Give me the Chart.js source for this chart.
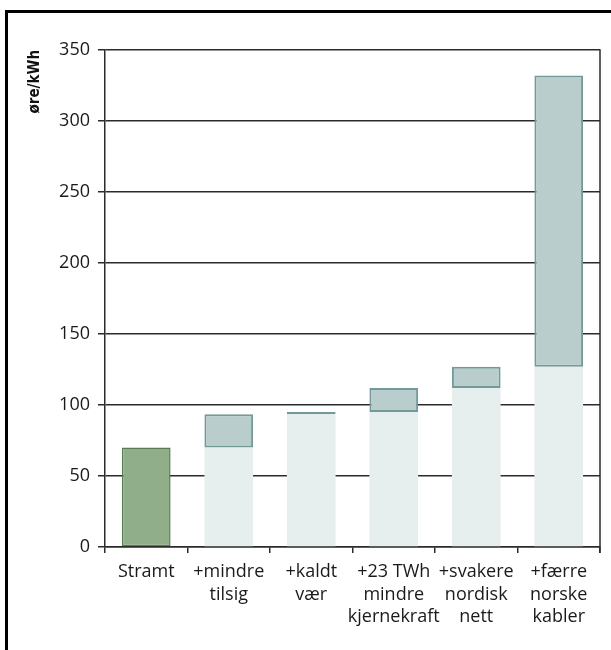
<!DOCTYPE html>
<html>
<head>
<meta charset="utf-8">
<script src="https://cdn.jsdelivr.net/npm/chart.js@4"></script>
<style>
  html, body { margin: 0; padding: 0; background: #fff; }
  #frame { position: absolute; left: 5px; top: 10px; width: 700px; height: 700px; border: 3px solid #000; box-sizing: border-box; }
  #wrap { position: absolute; left: 0; top: 0; width: 611px; height: 650px; }
</style>
</head>
<body>
<div id="frame"></div>
<div id="wrap"><canvas id="waterfall" width="611" height="650"></canvas></div>
<script>
// categories and values (øre/kWh)
var categories = ['Stramt', ['+mindre', 'tilsig'], ['+kaldt', 'vær'], ['+23 TWh', 'mindre', 'kjernekraft'], ['+svakere', 'nordisk', 'nett'], ['+færre', 'norske', 'kabler']];
var stepStart = [0, 70, 93.5, 95, 112, 127];
var stepEnd = [70, 93.5, 95, 112, 127, 332];
var yTicks = [0, 50, 100, 150, 200, 250, 300, 350];

// first bar is the starting level, the rest are increments on top of a light base
var baseBars = stepEnd.map(function(v, i) { return i === 0 ? v : stepStart[i]; });
var stepBars = stepEnd.map(function(v, i) { return i === 0 ? null : [stepStart[i], v]; });

var axisColor = '#2b2b2b';

var rightBorder = {
    id: 'rightBorder',
    afterDraw: function(chart) {
        var a = chart.chartArea, c = chart.ctx;
        c.save();
        c.strokeStyle = axisColor;
        c.lineWidth = 1.5;
        c.beginPath();
        c.moveTo(a.right, a.top - 0.75);
        c.lineTo(a.right, a.bottom + 6);
        c.stroke();
        c.restore();
    }
};

var ctx = document.getElementById('waterfall').getContext('2d');
var myChart = new Chart(ctx, {
    type: 'bar',
    data: {
        labels: categories,
        datasets: [{
            label: 'Økning',
            data: stepBars,
            backgroundColor: '#b8cdcc',
            borderColor: '#729a99',
            borderWidth: 2,
            borderSkipped: false,
            barPercentage: 0.59,
            categoryPercentage: 1
        }, {
            label: 'Nivå',
            data: baseBars,
            backgroundColor: baseBars.map(function(v, i) { return i === 0 ? '#8fae89' : '#e6efee'; }),
            borderColor: baseBars.map(function(v, i) { return i === 0 ? '#5a7a56' : 'rgba(0,0,0,0)'; }),
            borderWidth: baseBars.map(function(v, i) { return i === 0 ? 1.5 : 0; }),
            borderSkipped: false,
            barPercentage: 0.59,
            categoryPercentage: 1
        }]
    },
    options: {
        responsive: false,
        animation: false,
        layout: { padding: { left: 0, top: 50, right: 11, bottom: 0 } },
        plugins: { legend: { display: false }, tooltip: { enabled: false } },
        scales: {
            x: {
                stacked: true,
                afterFit: function(s) { s.height = 103; },
                grid: { drawOnChartArea: false, drawTicks: true, tickLength: 6, color: axisColor, lineWidth: 1.5 },
                border: { color: axisColor, width: 1.5 },
                ticks: {
                    color: '#1a1a1a',
                    padding: 8,
                    maxRotation: 0,
                    autoSkip: false,
                    font: { family: 'Open Sans', size: 18, lineHeight: 1.25 }
                }
            },
            y: {
                min: 0,
                max: 350,
                afterFit: function(s) { s.width = 105; },
                afterBuildTicks: function(s) { s.ticks = yTicks.map(function(v) { return { value: v }; }); },
                grid: { color: axisColor, lineWidth: 1.5, tickLength: 7 },
                border: { color: axisColor, width: 1.5 },
                ticks: {
                    color: '#1a1a1a',
                    padding: 8,
                    font: { family: 'Open Sans', size: 18 }
                },
                title: {
                    display: true,
                    text: 'øre/kWh',
                    align: 'end',
                    color: '#111',
                    padding: { top: 26, bottom: 0 },
                    font: { family: "'Liberation Sans Narrow', 'DejaVu Sans Condensed', 'Open Sans'", size: 15, weight: 'bold' }
                }
            }
        }
    },
    plugins: [rightBorder]
});
</script>
</body>
</html>
